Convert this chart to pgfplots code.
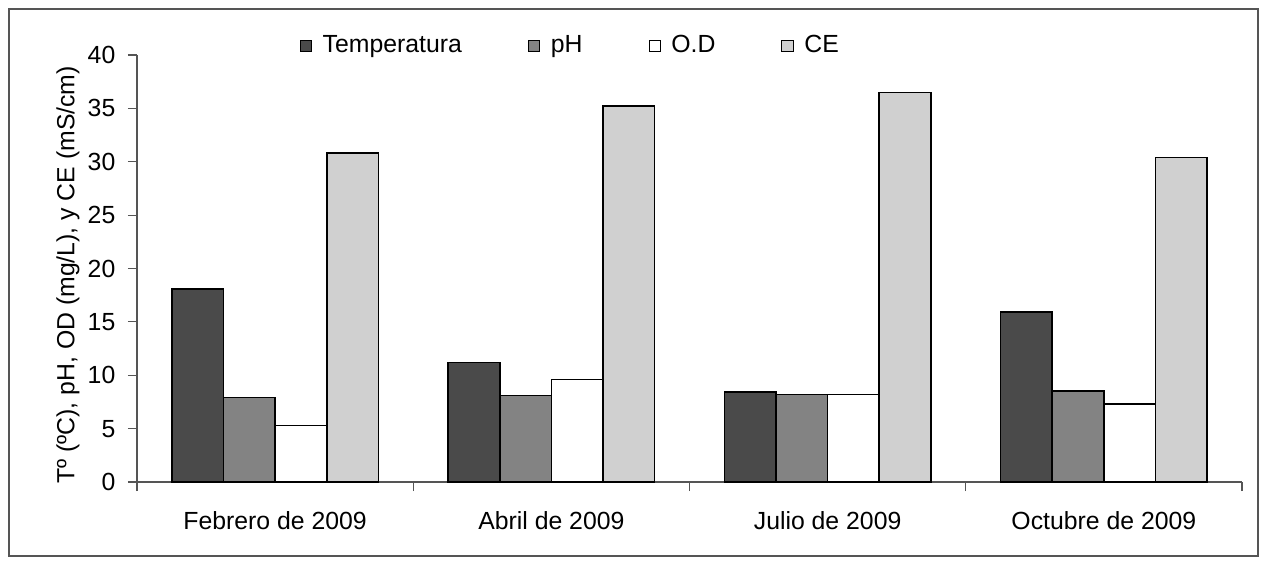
\documentclass[border=0pt]{standalone}
\usepackage{fontspec}
\setmainfont{Liberation Sans}
\usepackage{pgfplots}
\pgfplotsset{compat=1.18}
\definecolor{tempc}{HTML}{4A4A4A}
\definecolor{phc}{HTML}{838383}
\definecolor{odc}{HTML}{FFFFFF}
\definecolor{cec}{HTML}{D0D0D0}
\definecolor{axc}{HTML}{555555}
\begin{document}
\fontsize{12.4}{14.5}\selectfont
\begin{tikzpicture}
\path (-68.5pt,-40.5pt) rectangle (564pt,241pt);
\draw[axc, line width=0.8pt] (-64pt,-37pt) rectangle (560.5pt,236.5pt);
\begin{axis}[
  scale only axis,
  width=552.5pt, height=213.5pt,
  xmin=0, xmax=4, ymin=0, ymax=40,
  axis x line*=bottom, axis y line*=left,
  axis line style={axc, line width=0.6pt},
  every tick/.style={axc, line width=0.6pt},
  tick align=outside, major tick length=4.5pt,
  ytick={0,5,...,40},
  xtick={0,1,2,3,4},
  xticklabels={Febrero de 2009, Abril de 2009, Julio de 2009, Octubre de 2009},
  x tick label as interval,
  xticklabel style={yshift=-6pt},
  yticklabel style={xshift=-2pt},
  tick label style={font=\fontsize{12.4}{14.5}\selectfont},
  /pgf/number format/assume math mode=true,
  ylabel={Tº (ºC), pH, OD (mg/L), y CE (mS/cm)},
  ylabel style={at={(axis description cs:-0.0624,0.485)}, anchor=center, font=\fontsize{12.4}{14.5}\selectfont},
  ybar=0pt, bar width=0.187,
  legend columns=4,
  legend style={at={(axis description cs:0.147,1)}, yshift=4.5pt, anchor=west, draw=none, fill=none, inner sep=0pt, font=\fontsize{12.4}{14.5}\selectfont,
    /tikz/every even column/.append style={column sep=31pt}},
  legend image code/.code={\draw[#1, draw=black, line width=0.5pt] (0cm,-0.1cm) rectangle (0.2cm,0.1cm); \path[draw=none, fill=none] (0.2cm,0) -- ++(3.5pt,0);},
]
\addplot[fill=tempc, draw=black, line width=0.8pt] coordinates {(0.5,18.1) (1.5,11.2) (2.5,8.45) (3.5,15.9)};
\addplot[fill=phc, draw=black, line width=0.8pt] coordinates {(0.5,7.9) (1.5,8.1) (2.5,8.2) (3.5,8.5)};
\addplot[fill=odc, draw=black, line width=0.8pt] coordinates {(0.5,5.3) (1.5,9.6) (2.5,8.2) (3.5,7.3)};
\addplot[fill=cec, draw=black, line width=0.8pt] coordinates {(0.5,30.8) (1.5,35.2) (2.5,36.5) (3.5,30.4)};
\legend{Temperatura, pH, O.D, CE}
\end{axis}
\end{tikzpicture}
\end{document}
